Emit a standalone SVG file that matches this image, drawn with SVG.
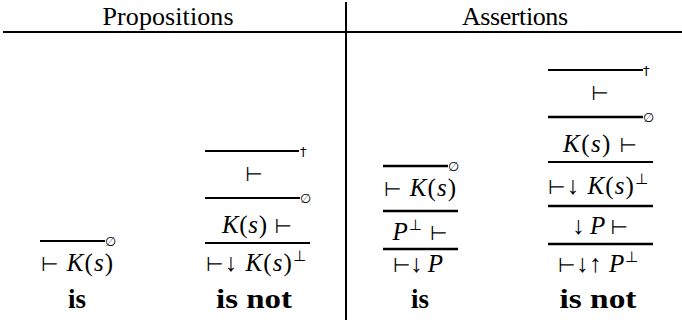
<svg xmlns="http://www.w3.org/2000/svg" width="682" height="322" viewBox="0 0 682 322">
<style>
.h{font-size:26px;text-anchor:middle;fill:#000}
.m{font-size:25px;text-anchor:middle;fill:#000}
.i{font-style:italic}
.y{font-size:20px}
.sup{font-size:15px}
.b{font-weight:bold;font-size:27px;text-anchor:middle;fill:#000}
.s{font-size:13px;fill:#000}
line{stroke:#000}
.t{stroke-width:2}
.k{stroke-width:2.6}
.r{stroke-width:2}
</style>
<rect width="682" height="322" fill="#fff"/>
<g id="table-rules">
<line class="r" x1="3" y1="32" x2="682" y2="32"/>
<line class="r" x1="346" y1="2" x2="346" y2="320"/>
</g>
<g id="headers">
<text class="h" x="168" y="25" font-family="Liberation Serif" style="font-family:'Liberation Serif',serif" textLength="131" lengthAdjust="spacing">Propositions</text>
<text class="h" x="515" y="25" font-family="Liberation Serif" style="font-family:'Liberation Serif',serif" textLength="106" lengthAdjust="spacing">Assertions</text>
</g>
<g id="connectors">
<line class="t" x1="40" y1="241" x2="105" y2="241"/>
<line class="t" x1="205" y1="151" x2="299" y2="151"/>
<line class="t" x1="205" y1="198" x2="300" y2="198"/>
<line class="t" x1="205" y1="243" x2="310" y2="243"/>
<line class="k" x1="383" y1="166" x2="448" y2="166"/>
<line class="k" x1="383" y1="211" x2="458" y2="211"/>
<line class="k" x1="383" y1="249" x2="458" y2="249"/>
<line class="t" x1="548" y1="70" x2="643" y2="70"/>
<line class="k" x1="548" y1="117" x2="643" y2="117"/>
<line class="t" x1="548" y1="162" x2="653" y2="162"/>
<line class="k" x1="548" y1="206" x2="653" y2="206"/>
<line class="k" x1="548" y1="244" x2="653" y2="244"/>
</g>
<g id="col1-prop-is">
<text class="s" x="105" y="246" style="font-family:'DejaVu Sans',sans-serif">∅</text>
<text class="m" x="77" y="271" font-family="Liberation Serif" style="font-family:'Liberation Serif',serif" textLength="72" lengthAdjust="spacing"><tspan class="y" style="font-family:'DejaVu Sans',sans-serif">⊢</tspan> <tspan class="i">K</tspan>(<tspan class="i">s</tspan>)</text>
<text class="b" x="77" y="308" font-family="Liberation Serif" style="font-family:'Liberation Serif',serif">is</text>
</g>
<g id="col2-prop-isnot">
<text class="s" x="300" y="156" style="font-family:'DejaVu Sans',sans-serif">†</text>
<text class="m" x="254" y="181" style="font-family:'DejaVu Sans',sans-serif"><tspan class="y">⊢</tspan></text>
<text class="s" x="300" y="203" style="font-family:'DejaVu Sans',sans-serif">∅</text>
<text class="m" x="257" y="233" font-family="Liberation Serif" style="font-family:'Liberation Serif',serif" textLength="70" lengthAdjust="spacing"><tspan class="i">K</tspan>(<tspan class="i">s</tspan>) <tspan class="y" style="font-family:'DejaVu Sans',sans-serif">⊢</tspan></text>
<text class="m" x="256" y="271" font-family="Liberation Serif" style="font-family:'Liberation Serif',serif" textLength="100" lengthAdjust="spacing"><tspan class="y" style="font-family:'DejaVu Sans',sans-serif">⊢</tspan>↓ <tspan class="i">K</tspan>(<tspan class="i">s</tspan>)<tspan class="sup" style="font-family:'DejaVu Sans',sans-serif" dy="-10">⊥</tspan></text>
<text class="b" x="254" y="308" font-family="Liberation Serif" style="font-family:'Liberation Serif',serif" textLength="76" lengthAdjust="spacingAndGlyphs">is not</text>
</g>
<g id="col3-assert-is">
<text class="s" x="448" y="171" style="font-family:'DejaVu Sans',sans-serif">∅</text>
<text class="m" x="420" y="196" font-family="Liberation Serif" style="font-family:'Liberation Serif',serif" textLength="72" lengthAdjust="spacing"><tspan class="y" style="font-family:'DejaVu Sans',sans-serif">⊢</tspan> <tspan class="i">K</tspan>(<tspan class="i">s</tspan>)</text>
<text class="m" x="420" y="240" font-family="Liberation Serif" style="font-family:'Liberation Serif',serif" textLength="55" lengthAdjust="spacing"><tspan class="i">P</tspan><tspan class="sup" style="font-family:'DejaVu Sans',sans-serif" dy="-10">⊥</tspan><tspan dy="10"> </tspan><tspan class="y" style="font-family:'DejaVu Sans',sans-serif">⊢</tspan></text>
<text class="m" x="418" y="272" font-family="Liberation Serif" style="font-family:'Liberation Serif',serif" textLength="50" lengthAdjust="spacing"><tspan class="y" style="font-family:'DejaVu Sans',sans-serif">⊢</tspan>↓ <tspan class="i">P</tspan></text>
<text class="b" x="420" y="308" font-family="Liberation Serif" style="font-family:'Liberation Serif',serif">is</text>
</g>
<g id="col4-assert-isnot">
<text class="s" x="643" y="75" style="font-family:'DejaVu Sans',sans-serif">†</text>
<text class="m" x="600" y="100" style="font-family:'DejaVu Sans',sans-serif"><tspan class="y">⊢</tspan></text>
<text class="s" x="643" y="122" style="font-family:'DejaVu Sans',sans-serif">∅</text>
<text class="m" x="600" y="152" font-family="Liberation Serif" style="font-family:'Liberation Serif',serif" textLength="74" lengthAdjust="spacing"><tspan class="i">K</tspan>(<tspan class="i">s</tspan>) <tspan class="y" style="font-family:'DejaVu Sans',sans-serif">⊢</tspan></text>
<text class="m" x="598" y="194" font-family="Liberation Serif" style="font-family:'Liberation Serif',serif" textLength="100" lengthAdjust="spacing"><tspan class="y" style="font-family:'DejaVu Sans',sans-serif">⊢</tspan>↓ <tspan class="i">K</tspan>(<tspan class="i">s</tspan>)<tspan class="sup" style="font-family:'DejaVu Sans',sans-serif" dy="-10">⊥</tspan></text>
<text class="m" x="600" y="234" font-family="Liberation Serif" style="font-family:'Liberation Serif',serif" textLength="56" lengthAdjust="spacing">↓ <tspan class="i">P</tspan> <tspan class="y" style="font-family:'DejaVu Sans',sans-serif">⊢</tspan></text>
<text class="m" x="598" y="272" font-family="Liberation Serif" style="font-family:'Liberation Serif',serif" textLength="80" lengthAdjust="spacing"><tspan class="y" style="font-family:'DejaVu Sans',sans-serif">⊢</tspan>↓↑ <tspan class="i">P</tspan><tspan class="sup" style="font-family:'DejaVu Sans',sans-serif" dy="-10">⊥</tspan></text>
<text class="b" x="598" y="308" font-family="Liberation Serif" style="font-family:'Liberation Serif',serif" textLength="77" lengthAdjust="spacingAndGlyphs">is not</text>
</g>
</svg>
